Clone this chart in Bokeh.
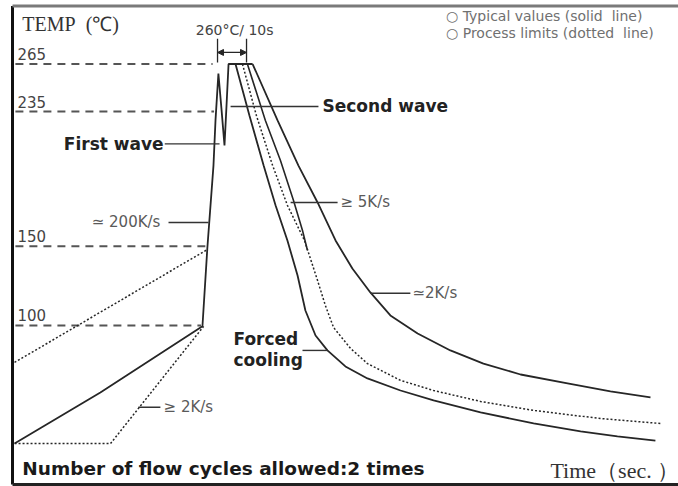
from bokeh.plotting import figure
from bokeh.models import Range1d, Arrow, NormalHead
from bokeh.core.properties import value
from bokeh.embed import file_html
from bokeh.resources import INLINE

# ---------------- data (time in s, temperature in degC) ----------------
level_temps = [265, 235, 150, 100]
level_labels = ["265", "235", "150", "100"]
level_end_t = [69.0, 69.5, 66.5, 65.0]

# typical heating path: preheat, ~200 K/s rise, first wave, second wave plateau
heat_t = [0.7, 30.3, 65.5, 67.2, 69.3, 70.0, 71.0, 72.1, 73.1, 73.8, 74.5, 82.8]
heat_T = [25.4, 57.7, 99.5, 149.2, 200.9, 229.4, 259.0, 235.7, 213.6, 238.8, 265.0, 265.0]

# preheat process limits (dotted)
pre_hi_t = [0.7, 67.2]
pre_hi_T = [76.6, 147.9]
pre_lo_t = [0.7, 33.8, 65.9]
pre_lo_T = [25.4, 25.4, 99.4]

# cooling curves
forced_t = [76.9, 81.7, 86.6, 90.7, 94.8, 98.3, 101.0, 104.5, 108.6, 114.8, 122.4,
            133.8, 145.2, 161.4, 179.7, 195.9, 208.6, 221.7]
forced_T = [265.0, 232.5, 200.9, 175.8, 153.6, 131.5, 109.4, 93.6, 84.2, 74.1, 66.5,
            58.9, 52.6, 45.1, 38.1, 33.1, 29.9, 27.3]

limit_t = [79.3, 84.1, 89.7, 94.8, 100.7, 105.2, 107.9, 110.7, 116.6, 122.4, 133.8,
           145.2, 161.4, 179.7, 202.8, 223.4]
limit_T = [265.0, 232.5, 200.9, 175.8, 153.6, 128.3, 112.5, 98.7, 85.4, 75.9, 65.3,
           58.9, 52.0, 46.3, 41.2, 38.1]

typ5_t = [81.0, 87.2, 92.4, 96.9, 100.0, 101.7]
typ5_T = [265.0, 229.4, 204.1, 178.9, 159.9, 147.4]

slow_t = [82.8, 91.4, 98.6, 105.2, 111.4, 117.2, 123.4, 130.3, 139.7, 151.0, 162.4,
          175.2, 191.4, 206.2, 220.0]
slow_T = [265.0, 229.4, 200.9, 177.6, 153.6, 135.9, 120.8, 106.3, 94.9, 84.2, 75.9,
          69.0, 63.4, 58.3, 54.5]

peak_window = [70.7, 80.7]   # 10 s at 260 degC

LINE = "#262626"
SANS = "DejaVu Sans"
SERIF = "Liberation Serif"

p = figure(width=678, height=486, x_range=Range1d(-4.14, 229.66), y_range=Range1d(-1.7, 305.1),
           output_backend="svg", toolbar_location=None, min_border=0)
p.outline_line_color = None
p.grid.visible = False
p.xaxis.visible = False
p.yaxis.visible = False
p.background_fill_color = "white"

# chart frame (left, top, bottom)
p.segment(x0=[0], y0=[-0.5], x1=[0], y1=[301.6], line_color="#111111", line_width=3)
p.segment(x0=[0], y0=[301.6], x1=[229.66], y1=[301.6], line_color="#7a7a7a", line_width=3)
p.segment(x0=[0], y0=[-0.5], x1=[229.66], y1=[-0.5], line_color="#222222", line_width=3)

# dashed temperature levels and their labels
p.segment(x0=[1.0] * len(level_temps), y0=level_temps, x1=level_end_t, y1=level_temps,
          line_color="#555555", line_width=2, line_dash="8 6")
p.text(x=[1.7] * len(level_temps), y=[t + 2.5 for t in level_temps], text=level_labels,
       text_font=value(SANS), text_font_size="15px", text_color="#444444",
       text_baseline="bottom", text_align="left")

# curves
p.line(heat_t, heat_T, line_color=LINE, line_width=1.8)
p.line(pre_hi_t, pre_hi_T, line_color=LINE, line_width=1.5, line_dash="2 2")
p.line(pre_lo_t, pre_lo_T, line_color=LINE, line_width=1.5, line_dash="2 2")
p.line(forced_t, forced_T, line_color=LINE, line_width=1.8)
p.line(limit_t, limit_T, line_color=LINE, line_width=1.5, line_dash="2 2")
p.line(typ5_t, typ5_T, line_color=LINE, line_width=1.6)
p.line(slow_t, slow_T, line_color=LINE, line_width=1.8)

# 260 degC / 10 s marker
p.segment(x0=peak_window, y0=[266, 266], x1=peak_window, y1=[281, 281],
          line_color=LINE, line_width=1.3)
p.add_layout(Arrow(x_start=peak_window[0], y_start=272.3, x_end=peak_window[1], y_end=272.3,
                   line_color=LINE, line_width=1.3,
                   start=NormalHead(size=6, fill_color=LINE, line_color=LINE),
                   end=NormalHead(size=6, fill_color=LINE, line_color=LINE)))
p.text(x=[76.6], y=[286.5], text=["260°C/ 10s"], text_font=value(SANS),
       text_font_size="14px", text_color="#444444", text_align="center",
       text_baseline="middle")

# pointer lines
p.segment(x0=[52.5, 75.2, 53.8, 95.9, 123.4, 43.4, 100.0],
          y0=[214.6, 238.2, 165.0, 177.6, 120.3, 48.3, 84.2],
          x1=[71.4, 105.5, 67.6, 112.1, 137.2, 51.0, 108.6],
          y1=[214.6, 238.2, 165.0, 177.6, 120.3, 48.3, 84.2],
          line_color="#333333", line_width=1.4)

# bold annotations
BOLD = dict(text_font=value(SANS), text_font_style="bold", text_font_size="17px",
            text_color="#222222", text_baseline="middle")
p.text(x=[52.1], y=[214.6], text=["First wave"], text_align="right", **BOLD)
p.text(x=[106.9], y=[238.2], text=["Second wave"], text_align="left", **BOLD)
p.text(x=[76.2, 76.2], y=[91.7, 77.9], text=["Forced", "cooling"], text_align="left", **BOLD)

# rate labels
RATE = dict(text_font=value(SANS), text_font_size="15px", text_color="#5a5a5a",
            text_baseline="middle")
p.text(x=[51.0], y=[165.0], text=["≃ 200K/s"], text_align="right", **RATE)
p.text(x=[113.1, 137.9, 52.1], y=[177.6, 120.3, 48.3], text=["≥ 5K/s", "≃2K/s", "≥ 2K/s"],
       text_align="left", **RATE)

# legend notes
p.text(x=[149.5, 149.5], y=[295.0, 284.3],
       text=["○ Typical values (solid\u00a0\u00a0line)", "○ Process limits (dotted\u00a0\u00a0line)"],
       text_font=value(SANS), text_font_size="14px", text_color="#707070",
       text_align="left", text_baseline="middle")

# axis titles and footer
p.text(x=[3.4], y=[290.0], text=["TEMP\u00a0\u00a0(℃)"], text_font=value(SERIF),
       text_font_size="20px", text_color="#333333", text_align="left", text_baseline="middle")
p.text(x=[185.5], y=[8.4], text=["Time（sec. ）"], text_font=value(SERIF),
       text_font_size="22px", text_color="#333333", text_align="left", text_baseline="middle")
p.text(x=[3.4], y=[9.7], text=["Number of flow cycles allowed:2 times"], text_font=value(SANS),
       text_font_style="bold", text_font_size="18.5px", text_color="#1a1a1a",
       text_align="left", text_baseline="middle")

open("out.html", "w").write(file_html(p, INLINE))
